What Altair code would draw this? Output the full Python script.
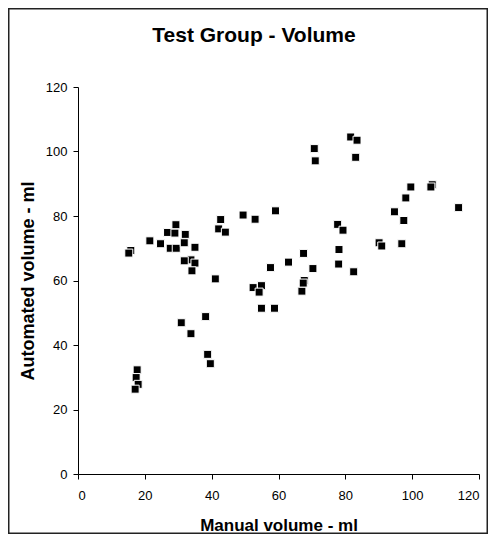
import altair as alt
import pandas as pd

# Manual volume (x) and automated volume (y), ml.
# Points that are partly hidden by a neighbour come first so they are drawn underneath.
manual = [
    15.8, 106.0, 90.1, 67.7, 33.8,
    15.2, 21.5, 24.7, 26.8, 29.0, 29.3, 32.1, 27.6, 29.4, 31.8, 35.0,
    31.8, 35.0, 34.1, 41.1, 42.7, 42.1, 44.1, 49.4, 53.0, 57.6,
    81.6, 83.5, 70.7, 71.0, 83.1, 99.6, 105.6, 98.1, 113.9, 94.7,
    97.5, 59.1, 77.7, 79.3, 78.1, 90.9, 96.9, 67.5, 63.0, 70.3,
    78.0, 82.5, 52.4, 54.9, 54.2, 54.9, 30.9, 38.2, 33.8, 38.8,
    39.6, 17.7, 17.4, 18.0, 17.1, 58.8, 67.0, 67.4,
]
automated = [
    69.3, 89.7, 71.7, 60.0, 66.4,
    68.5, 72.3, 71.4, 74.9, 74.7, 77.3, 74.3, 70.0, 70.0, 71.7, 70.3,
    66.1, 65.4, 63.0, 60.5, 78.9, 76.0, 75.0, 80.3, 79.0, 64.0,
    104.5, 103.5, 100.9, 97.1, 98.2, 89.0, 89.0, 85.6, 82.6, 81.3,
    78.6, 81.6, 77.4, 75.6, 69.6, 70.7, 71.4, 68.4, 65.7, 63.7,
    65.1, 62.7, 57.8, 58.4, 56.4, 51.4, 46.9, 48.8, 43.5, 37.1,
    34.2, 32.3, 29.9, 27.8, 26.3, 51.4, 56.7, 59.2,
]
tick_values = [0, 20, 40, 60, 80, 100, 120]
chart_title = ["Test Group - Volume"]
x_title = "Manual volume - ml"
y_title = "Automated volume - ml"

FONT = "Liberation Sans"

points_df = pd.DataFrame({"manual": manual, "automated": automated})
title_df = pd.DataFrame({"t": chart_title})
frame_df = pd.DataFrame({"k": [0]})

PW, PH = 401, 387
PL, PT, PR, PB = 70, 79, 9, 60

points = alt.Chart(points_df).mark_square(
    size=64, color="black", filled=True, stroke="white", strokeWidth=1, opacity=1
).encode(
    x=alt.X(
        "manual:Q",
        scale=alt.Scale(domain=[0, 120], nice=False, zero=True),
        axis=alt.Axis(
            values=tick_values, title=x_title, grid=False,
            tickSize=5, labelPadding=10, titleY=56, titleBaseline="alphabetic",
            titleFontSize=17,
        ),
    ),
    y=alt.Y(
        "automated:Q",
        scale=alt.Scale(domain=[0, 120], nice=False, zero=True),
        axis=alt.Axis(
            values=tick_values, title=y_title, grid=False,
            tickSize=5, labelPadding=6, titleX=-45, titleBaseline="alphabetic",
            titleFontSize=18,
        ),
    ),
)

title_text = alt.Chart(title_df).mark_text(
    font=FONT, fontSize=21, fontWeight="bold", color="black",
    align="center", baseline="alphabetic",
).encode(
    x=alt.value(176), y=alt.value(-45), text="t:N"
)

frame = alt.Chart(frame_df).mark_rect(
    fill="white", fillOpacity=0, stroke="#222222", strokeWidth=1.5
).encode(
    x=alt.value(-PL + 0.75), x2=alt.value(PW + PR - 0.75),
    y=alt.value(-PT + 0.75), y2=alt.value(PH + PB - 0.75),
)

chart = alt.layer(frame, points, title_text).properties(
    width=PW, height=PH,
    autosize=alt.AutoSizeParams(type="none"),
    padding={"left": PL, "top": PT, "right": PR, "bottom": PB},
    background="white",
).configure_view(
    stroke=None
).configure_axis(
    domainColor="black", domainWidth=1, tickColor="black", tickWidth=1,
    labelColor="black", titleColor="black",
    labelFont=FONT, titleFont=FONT, labelFontSize=13, titleFontWeight="bold",
)

chart.save("out.html", embed_options={"renderer": "svg", "actions": False})
